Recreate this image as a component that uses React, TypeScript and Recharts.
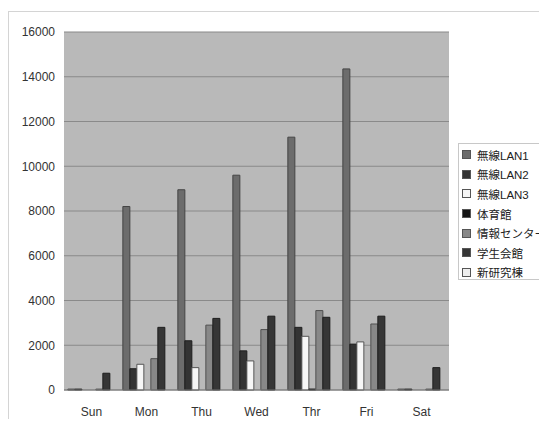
import { Bar, BarChart, CartesianGrid, Legend, XAxis, YAxis } from "recharts"

const days = ["Sun", "Mon", "Thu", "Wed", "Thr", "Fri", "Sat"]
const yTicks = [0, 2000, 4000, 6000, 8000, 10000, 12000, 14000, 16000]

const lan1 = [40, 8200, 8950, 9600, 11300, 14350, 40]
const lan2 = [40, 950, 2200, 1750, 2800, 2050, 40]
const lan3 = [0, 1150, 1000, 1300, 2400, 2150, 0]
const gym = [0, 0, 0, 0, 40, 0, 0]
const infoCenter = [40, 1400, 2900, 2700, 3550, 2950, 40]
const studentHall = [750, 2800, 3200, 3300, 3250, 3300, 1000]
const newLab = [0, 0, 0, 0, 0, 0, 0]

const series = [
    { key: "lan1", name: "無線LAN1", values: lan1, fill: "#6c6c6c", stroke: "#454545" },
    { key: "lan2", name: "無線LAN2", values: lan2, fill: "#333333", stroke: "#1e1e1e" },
    { key: "lan3", name: "無線LAN3", values: lan3, fill: "#f6f6f6", stroke: "#555555" },
    { key: "gym", name: "体育館", values: gym, fill: "#141414", stroke: "#0a0a0a" },
    { key: "info", name: "情報センター", values: infoCenter, fill: "#888888", stroke: "#505050" },
    { key: "hall", name: "学生会館", values: studentHall, fill: "#363636", stroke: "#1e1e1e" },
    { key: "lab", name: "新研究棟", values: newLab, fill: "#eeeeee", stroke: "#777777" },
]

const data = days.map((day, i) => {
    const row: Record<string, string | number> = { day }
    series.forEach((s) => {
        row[s.key] = s.values[i]
    })
    return row
})

const font = '"Liberation Sans", Arial, sans-serif'

// legend box hangs off the right edge of the frame
function LegendBox() {
    return (
        <div
            style={{
                border: "1px solid #c8c8c8",
                background: "#fff",
                padding: "1px 0 0 3px",
                width: 110,
                height: 137,
                boxSizing: "border-box",
                fontFamily: '"Liberation Sans", "Noto Sans CJK JP", sans-serif',
                fontSize: 11.5,
                color: "#222",
                whiteSpace: "nowrap",
            }}
        >
            {series.map((s) => (
                <div key={s.key} style={{ height: 19.6, display: "flex", alignItems: "center" }}>
                    <span
                        style={{
                            display: "inline-block",
                            width: 7,
                            height: 7,
                            background: s.fill,
                            border: "1px solid #555",
                            marginRight: 6,
                        }}
                    />
                    <span>{s.name}</span>
                </div>
            ))}
        </div>
    )
}

export default function App() {
    return (
        <div
            style={{
                position: "relative",
                top: 3,
                width: 538,
                height: 410,
                borderLeft: "1px solid #d4d4d4",
                borderTop: "1px solid #d4d4d4",
                overflow: "hidden",
                background: "#fff",
            }}
        >
            <BarChart
                width={538}
                height={409}
                data={data}
                margin={{ top: 20, right: 98, bottom: 1, left: 0 }}
                barCategoryGap="7%"
                barGap={0}
            >
                <CartesianGrid vertical={false} fill="#b9b9b9" stroke="#8a8a8a" strokeWidth={1.2} />
                <XAxis
                    dataKey="day"
                    height={30}
                    tickLine={false}
                    axisLine={{ stroke: "#7a7a7a" }}
                    tickMargin={11}
                    tick={{ fill: "#333", fontSize: 12, fontFamily: font }}
                />
                <YAxis
                    width={55}
                    domain={[0, 16000]}
                    ticks={yTicks}
                    interval={0}
                    tickLine={false}
                    axisLine={false}
                    tickMargin={3}
                    tick={{ fill: "#333", fontSize: 12, fontFamily: font }}
                />
                <Legend
                    layout="vertical"
                    align="center"
                    verticalAlign="middle"
                    wrapperStyle={{ left: 449, top: 131, width: 110 }}
                    content={() => <LegendBox />}
                />
                {series.map((s) => (
                    <Bar
                        key={s.key}
                        dataKey={s.key}
                        name={s.name}
                        fill={s.fill}
                        stroke={s.stroke}
                        strokeWidth={1}
                        isAnimationActive={false}
                    />
                ))}
            </BarChart>
        </div>
    )
}
